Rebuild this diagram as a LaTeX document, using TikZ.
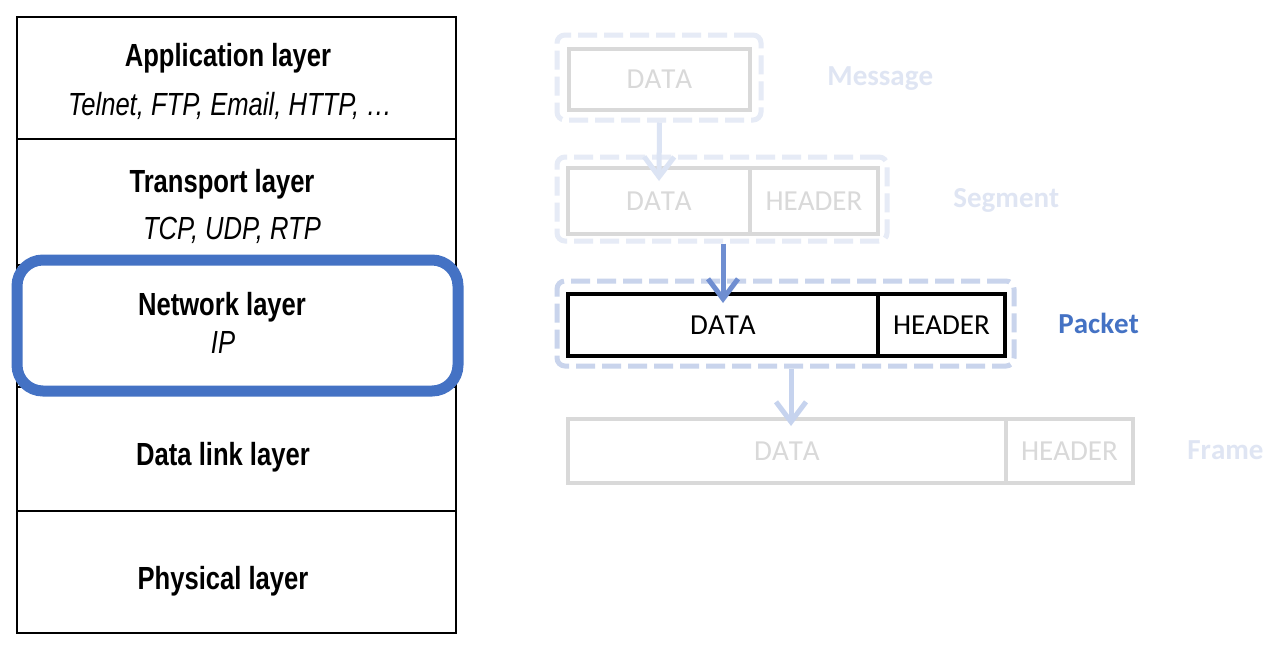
\documentclass[tikz,border=0pt]{standalone}
\usepackage{fontspec}
\setmainfont{Liberation Sans}
\newfontfamily\narrowfont[FakeStretch=0.80]{Liberation Sans}
\newfontfamily\calfont[Kerning=Off]{Carlito}
\usetikzlibrary{arrows.meta,fit}

\definecolor{netblue}{HTML}{4472C4}
\definecolor{palelabel}{HTML}{DFE5F3}
\definecolor{pktdash}{HTML}{C9D4EC}
\definecolor{paledash}{HTML}{E6EBF6}
\definecolor{ghost}{HTML}{D9D9D9}
\definecolor{midarrow}{HTML}{6F8ED1}
\definecolor{lowarrow}{HTML}{C6D3EE}
\definecolor{toparrow}{HTML}{DCE4F4}

\tikzset{
  layertitle/.style={anchor=base, inner sep=0pt, font=\narrowfont\bfseries\fontsize{16}{19}\selectfont},
  layerproto/.style={anchor=base, inner sep=0pt, font=\narrowfont\itshape\fontsize{16}{19}\selectfont},
  unitbox/.style={draw, line width=2pt, inner sep=0pt, font=\calfont\fontsize{14.5}{17}\selectfont},
  ghostbox/.style={unitbox, draw=ghost, text=ghost},
  groupbox/.style={draw=#1, line width=2.5pt, dash pattern=on 9.5pt off 3.5pt, rounded corners=4pt, inner sep=0pt},
  unitname/.style={anchor=west, inner sep=0pt, font=\calfont\bfseries\fontsize{14.5}{17}\selectfont},
  downarrow/.style={draw=#1, line width=2.5pt, -{Straight Barb[length=10pt,width=15pt]}},
}

\begin{document}
\begin{tikzpicture}[x=0.5pt, y=-0.5pt]
  \useasboundingbox[fill=white] (0,0) rectangle (1280,649);

  % protocol stack
  \draw[line width=1.3pt] (17,17) rectangle (456,633);
  \foreach \yy in {139,265,387,511}
    \draw[line width=1.3pt] (17,\yy) -- (456,\yy);
  \draw[netblue, line width=5.5pt, rounded corners=13pt, fill=white] (17,260) rectangle (458,391);

  \node[layertitle] (apptitle) at (228,66) {Application layer};
  \node[layerproto] (appproto) at (230,115) {Telnet, FTP, Email, HTTP, \dots};
  \node[layertitle] (transtitle) at (222,192) {Transport layer};
  \node[layerproto] (transproto) at (232,239) {TCP, UDP, RTP};
  \node[layertitle] (nettitle) at (222,315) {Network layer};
  \node[layerproto] (netproto) at (223,353) {IP};
  \node[layertitle] (linktitle) at (223,465) {Data link layer};
  \node[layertitle] (phystitle) at (223,589) {Physical layer};

  % encapsulation units
  \node[groupbox=paledash, fit={(557,35) (761,120)}] (msggroup) {};
  \node[groupbox=paledash, fit={(557,157) (887,241)}] (seggroup) {};
  \node[groupbox=pktdash, fit={(557,281) (1014,366)}] (pktgroup) {};

  \node[ghostbox, minimum width=90.5pt, minimum height=30.5pt] (msgdata) at (659.5,79.5) {DATA};
  \node[ghostbox, minimum width=91pt, minimum height=33pt] (segdata) at (659,201) {DATA};
  \node[ghostbox, minimum width=64pt, minimum height=33pt] (seghdr) at (814,201) {HEADER};
  \node[unitbox, minimum width=155pt, minimum height=31pt] (pktdata) at (723,325) {DATA};
  \node[unitbox, minimum width=63.5pt, minimum height=31pt] (pkthdr) at (941.5,325) {HEADER};
  \node[ghostbox, minimum width=219pt, minimum height=32pt] (frmdata) at (787,451) {DATA};
  \node[ghostbox, minimum width=63.5pt, minimum height=32pt] (frmhdr) at (1069.5,451) {HEADER};

  \node[unitname, text=palelabel] (msgname) at (827,79) {Message};
  \node[unitname, text=palelabel] (segname) at (953,200) {Segment};
  \node[unitname, text=netblue] (pktname) at (1058,323) {Packet};
  \node[unitname, text=palelabel] (frmname) at (1187,450) {Frame};

  \draw[downarrow=toparrow] (msggroup.south -| msgdata.south) -- ([yshift=-7.5pt]segdata.north);
  \draw[downarrow=midarrow] (seggroup.south -| pktdata.north) -- ([yshift=-5.5pt]pktdata.north);
  \draw[downarrow=lowarrow] (pktgroup.south -| 791,0) -- ([yshift=-4.5pt]frmdata.north -| 791,0);
\end{tikzpicture}
\end{document}
